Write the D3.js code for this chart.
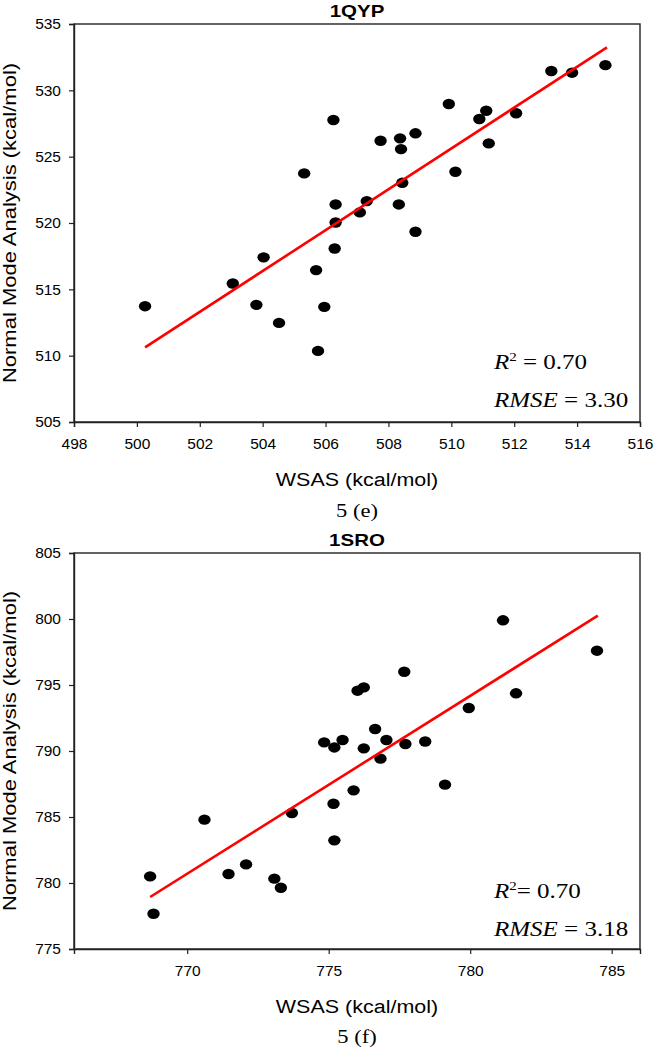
<!DOCTYPE html>
<html><head><meta charset="utf-8">
<script src="https://cdn.jsdelivr.net/npm/d3@7"></script>
<style>body{margin:0;background:#fff}</style>
</head><body>
<script>
// ---------- DATA ----------
const qypTitle = "1QYP";
const qypWSAS = [514.9,513.18,513.84,509.92,511.11,510.89,512.06,511.19,510.13,506.25,507.75,508.37,508.4,508.86,505.32,508.44,506.32,507.31,507.09,508.33,506.32,508.86,506.29,504.03,505.7,503.05,500.26,503.8,505.96,504.52,505.76];
const qypNMA  = [531.9,531.46,531.33,528.97,528.46,527.84,528.27,526.0,523.86,527.76,526.2,526.38,525.57,526.76,523.74,523.03,521.4,521.65,520.8,521.4,520.04,519.34,518.08,517.41,516.45,515.44,513.73,513.83,513.68,512.47,510.36];
const qypFitX = [500.26,514.95];
const qypFitY = [510.62,533.24];
const qypXTicks = [498,500,502,504,506,508,510,512,514,516];
const qypYTicks = [505,510,515,520,525,530,535];
const qypStats = ["0.70","3.30"];

const sroTitle = "1SRO";
const sroWSAS = [781.16,784.48,777.67,776.02,776.24,781.62,779.95,776.64,774.84,775.2,775.49,776.24,777.04,777.71,778.41,776.83,779.11,775.88,775.17,773.7,770.61,775.2,772.08,768.69,771.46,773.08,773.31,768.81];
const sroNMA  = [799.9,797.6,796.0,794.57,794.82,794.37,793.26,791.67,790.65,790.27,790.83,790.2,790.83,790.53,790.72,789.42,787.45,787.02,786.0,785.3,784.8,783.23,781.41,780.5,780.68,780.33,779.64,777.67];
const sroFitX = [768.69,784.51];
const sroFitY = [778.94,800.25];
const sroXTicks = [770,775,780,785];
const sroYTicks = [775,780,785,790,795,800,805];
const sroStats = ["0.70","3.18"];

const xLabel = "WSAS (kcal/mol)";
const yLabel = "Normal Mode Analysis (kcal/mol)";

// ---------- DRAW ----------
const W = 654, H = 1050;
const SANS = "Arial, 'Liberation Sans', sans-serif";
const SERIF = "'Times New Roman', 'Liberation Serif', serif";
const svg = d3.select("body").append("svg").attr("width", W).attr("height", H);

function label(g, x, y, sy, anchor) {
  return g.append("text").attr("transform", `translate(${x},${y}) scale(1,${sy})`)
    .attr("text-anchor", anchor);
}

function panel(o) {
  const x = d3.scaleLinear().domain(o.xDom).range([74, 640]);
  const y = d3.scaleLinear().domain(o.yDom).range([o.bottom, o.top]);
  const g = svg.append("g");
  const cx = (x.range()[0] + x.range()[1]) / 2;

  g.append("rect").attr("x", 74).attr("y", o.top).attr("width", 566).attr("height", o.bottom - o.top)
    .attr("fill", "none").attr("stroke", "#222").attr("stroke-width", 1.4);

  const ax = g.append("g").attr("transform", `translate(0,${o.bottom})`)
    .call(d3.axisBottom(x).tickValues(o.xTicks).tickSize(5).tickPadding(7).tickFormat(d3.format("d")));
  const ay = g.append("g").attr("transform", `translate(74,0)`)
    .call(d3.axisLeft(y).tickValues(o.yTicks).tickSize(5).tickPadding(8).tickFormat(d3.format("d")));
  [ax, ay].forEach(a => {
    a.select(".domain").attr("stroke", "#222").attr("stroke-width", 1.4);
    a.selectAll(".tick line").attr("stroke", "#222").attr("stroke-width", 1.2);
    a.selectAll(".tick text").attr("font-family", SANS).attr("font-size", 15.5).attr("fill", "#000");
  });
  ax.selectAll(".tick text").attr("dy", null).attr("y", 27);

  g.append("g").selectAll("ellipse").data(o.xs.map((v, i) => [v, o.ys[i]])).join("ellipse")
    .attr("cx", d => x(d[0])).attr("cy", d => y(d[1])).attr("rx", 6.2).attr("ry", 5.2).attr("fill", "#000");

  g.append("path").datum(o.fitX.map((v, i) => [v, o.fitY[i]]))
    .attr("d", d3.line().x(d => x(d[0])).y(d => y(d[1])))
    .attr("stroke", "#ff0000").attr("stroke-width", 2.6).attr("fill", "none");

  label(g, cx, o.top - 7, 0.82, "middle").attr("font-family", SANS).attr("font-weight", "bold")
    .attr("font-size", 20.5).text(o.title);

  label(g, cx, o.bottom + 64, 0.85, "middle").attr("font-family", SANS).attr("font-size", 21.5).text(xLabel);
  g.append("text").attr("transform", `translate(16,${(o.top + o.bottom) / 2}) rotate(-90) scale(1,0.82)`)
    .attr("text-anchor", "middle").attr("font-family", SANS).attr("font-size", 22).text(yLabel);

  label(g, cx, o.bottom + o.capOff, 0.82, "middle").attr("font-family", SERIF).attr("font-size", 22.5).text(o.caption);

  const s1 = label(g, 494, o.statY1, 0.82, "start").attr("font-family", SERIF).attr("font-size", 25);
  s1.append("tspan").attr("font-style", "italic").text("R");
  s1.append("tspan").attr("font-size", 15).attr("dy", -10).text("2");
  s1.append("tspan").attr("dy", 10).text(o.r2sep + "= " + o.stats[0]);
  const s2 = label(g, 494, o.statY1 + 37.5, 0.82, "start").attr("font-family", SERIF).attr("font-size", 25);
  s2.append("tspan").attr("font-style", "italic").text("RMSE");
  s2.append("tspan").text(" = " + o.stats[1]);
}

panel({ title: qypTitle, xs: qypWSAS, ys: qypNMA, fitX: qypFitX, fitY: qypFitY,
  xDom: [498, 516], yDom: [505, 535], xTicks: qypXTicks, yTicks: qypYTicks,
  top: 24, bottom: 422, caption: "5 (e)", capOff: 95, stats: qypStats, statY1: 369, r2sep: " " });
panel({ title: sroTitle, xs: sroWSAS, ys: sroNMA, fitX: sroFitX, fitY: sroFitY,
  xDom: [766, 786], yDom: [775, 805], xTicks: sroXTicks, yTicks: sroYTicks,
  top: 553, bottom: 949, caption: "5 (f)", capOff: 94, stats: sroStats, statY1: 898, r2sep: "" });
</script>
</body></html>
